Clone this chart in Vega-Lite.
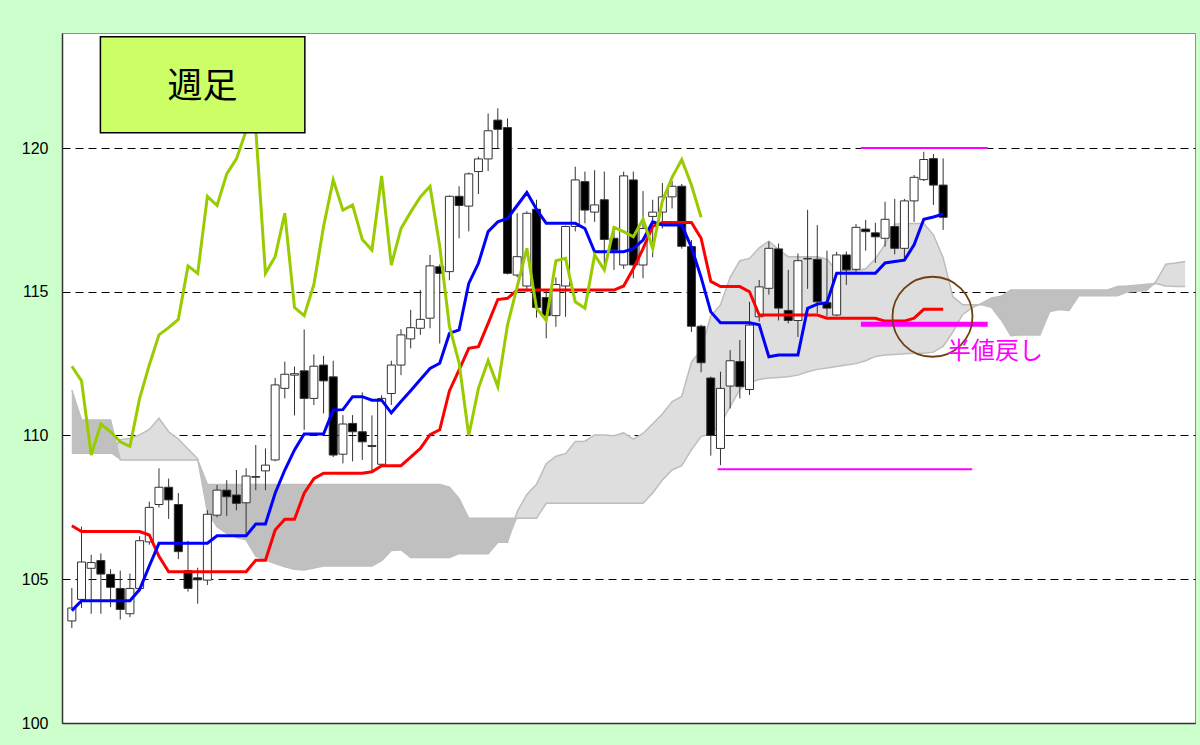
{
"$schema": "https://vega.github.io/schema/vega-lite/v6.json",
"width": 1133, "height": 690,
"autosize": "none",
"padding": {"left": 62, "top": 33, "right": 5, "bottom": 22},
"background": "#CCFFCC",
"config": {
 "view": {"fill": "white", "stroke": "#909090", "strokeWidth": 1},
 "font": "Liberation Sans",
 "axisX": {"labels": false, "ticks": false, "grid": false, "domainColor": "#333333", "domainWidth": 1.5},
 "axisY": {"ticks": false, "tickSize": 0, "labelPadding": 14, "labelFontSize": 16, "labelColor": "#000000", "labelFont": "Liberation Sans", "domainColor": "#333333", "domainWidth": 1.5, "grid": true, "gridColor": "#000000", "gridDash": [8, 5], "gridWidth": 1}
},
"datasets": {
"candles": [
{"i":0,"o":103.55,"h":104.7,"l":103.3,"c":104.0,"t":103.91,"k":106.86},
{"i":1,"o":104.3,"h":106.83,"l":104.0,"c":105.6,"t":104.25,"k":106.66},
{"i":2,"o":105.38,"h":105.85,"l":103.8,"c":105.58,"t":104.25,"k":106.66},
{"i":3,"o":105.65,"h":105.9,"l":103.8,"c":105.18,"t":104.25,"k":106.66},
{"i":4,"o":105.17,"h":105.35,"l":104.03,"c":104.72,"t":104.25,"k":106.66},
{"i":5,"o":104.68,"h":105.3,"l":103.6,"c":103.95,"t":104.25,"k":106.66},
{"i":6,"o":103.8,"h":105.2,"l":103.68,"c":104.68,"t":104.25,"k":106.66},
{"i":7,"o":104.68,"h":106.5,"l":104.6,"c":106.34,"t":104.64,"k":106.66},
{"i":8,"o":106.3,"h":107.7,"l":106.2,"c":107.5,"t":105.46,"k":106.54},
{"i":9,"o":107.6,"h":108.86,"l":107.5,"c":108.2,"t":106.25,"k":105.8},
{"i":10,"o":108.2,"h":108.5,"l":107.1,"c":107.76,"t":106.25,"k":105.26},
{"i":11,"o":107.6,"h":108.0,"l":105.7,"c":105.96,"t":106.25,"k":105.26},
{"i":12,"o":105.3,"h":106.34,"l":104.57,"c":104.68,"t":106.25,"k":105.26},
{"i":13,"o":105.05,"h":105.4,"l":104.15,"c":104.98,"t":106.25,"k":105.26},
{"i":14,"o":104.97,"h":107.4,"l":104.8,"c":107.26,"t":106.25,"k":105.26},
{"i":15,"o":107.23,"h":108.28,"l":107.15,"c":108.1,"t":106.51,"k":105.26},
{"i":16,"o":108.1,"h":108.45,"l":107.2,"c":107.87,"t":106.51,"k":105.26},
{"i":17,"o":107.93,"h":108.8,"l":107.4,"c":107.64,"t":106.51,"k":105.26},
{"i":18,"o":107.66,"h":108.86,"l":106.55,"c":108.59,"t":106.51,"k":105.26},
{"i":19,"o":108.57,"h":109.67,"l":108.1,"c":108.55,"t":106.92,"k":105.66},
{"i":20,"o":108.77,"h":109.55,"l":108.1,"c":108.97,"t":106.92,"k":105.66},
{"i":21,"o":109.15,"h":112.0,"l":109.1,"c":111.76,"t":107.99,"k":106.71},
{"i":22,"o":111.64,"h":112.57,"l":111.29,"c":112.13,"t":108.8,"k":107.09},
{"i":23,"o":112.1,"h":112.4,"l":110.7,"c":112.15,"t":109.5,"k":107.09},
{"i":24,"o":112.25,"h":113.69,"l":110.2,"c":111.29,"t":110.05,"k":107.99},
{"i":25,"o":111.29,"h":112.82,"l":111.06,"c":112.41,"t":110.05,"k":108.5},
{"i":26,"o":112.45,"h":112.77,"l":110.77,"c":111.9,"t":110.05,"k":108.69},
{"i":27,"o":112.04,"h":112.6,"l":109.25,"c":109.32,"t":110.89,"k":108.69},
{"i":28,"o":109.35,"h":110.71,"l":109.03,"c":110.4,"t":110.9,"k":108.69},
{"i":29,"o":110.42,"h":110.71,"l":109.1,"c":110.13,"t":111.35,"k":108.69},
{"i":30,"o":110.13,"h":111.5,"l":109.15,"c":109.78,"t":111.35,"k":108.69},
{"i":31,"o":109.65,"h":110.7,"l":108.75,"c":109.62,"t":111.23,"k":108.74},
{"i":32,"o":109.0,"h":111.4,"l":108.97,"c":111.29,"t":111.23,"k":108.95},
{"i":33,"o":111.46,"h":112.6,"l":111.06,"c":112.45,"t":110.79,"k":108.95},
{"i":34,"o":112.45,"h":113.7,"l":112.1,"c":113.5,"t":111.18,"k":108.95},
{"i":35,"o":113.36,"h":114.37,"l":113.03,"c":113.75,"t":111.56,"k":109.25},
{"i":36,"o":113.73,"h":115.06,"l":113.5,"c":114.04,"t":111.95,"k":109.55},
{"i":37,"o":114.08,"h":116.28,"l":113.73,"c":115.9,"t":112.33,"k":110.03},
{"i":38,"o":115.87,"h":115.95,"l":113.2,"c":115.64,"t":112.51,"k":110.2},
{"i":39,"o":115.7,"h":118.35,"l":115.4,"c":118.32,"t":113.55,"k":111.55},
{"i":40,"o":118.32,"h":118.67,"l":116.86,"c":118.0,"t":113.67,"k":112.28},
{"i":41,"o":117.98,"h":119.15,"l":117.1,"c":119.1,"t":115.29,"k":113.03},
{"i":42,"o":119.18,"h":119.7,"l":118.4,"c":119.62,"t":115.99,"k":113.09},
{"i":43,"o":119.62,"h":121.2,"l":119.2,"c":120.6,"t":117.09,"k":113.9},
{"i":44,"o":120.97,"h":121.38,"l":120.0,"c":120.65,"t":117.43,"k":114.73},
{"i":45,"o":120.71,"h":121.03,"l":115.6,"c":115.64,"t":117.55,"k":114.77},
{"i":46,"o":115.58,"h":117.73,"l":115.5,"c":116.22,"t":118.0,"k":115.06},
{"i":47,"o":115.2,"h":117.8,"l":115.0,"c":117.73,"t":118.45,"k":115.06},
{"i":48,"o":117.87,"h":118.2,"l":114.1,"c":114.45,"t":117.87,"k":115.06},
{"i":49,"o":114.8,"h":115.06,"l":113.38,"c":114.17,"t":117.38,"k":115.06},
{"i":50,"o":114.17,"h":115.5,"l":113.78,"c":115.25,"t":117.38,"k":115.06},
{"i":51,"o":115.2,"h":117.3,"l":114.13,"c":117.27,"t":117.38,"k":115.06},
{"i":52,"o":117.27,"h":119.35,"l":117.1,"c":118.89,"t":117.38,"k":115.06},
{"i":53,"o":118.83,"h":119.18,"l":117.38,"c":117.84,"t":117.2,"k":115.06},
{"i":54,"o":117.77,"h":119.23,"l":117.43,"c":118.02,"t":116.39,"k":115.06},
{"i":55,"o":118.2,"h":119.18,"l":115.76,"c":116.82,"t":116.39,"k":115.06},
{"i":56,"o":116.86,"h":117.2,"l":115.76,"c":116.45,"t":116.39,"k":115.06},
{"i":57,"o":115.93,"h":119.18,"l":115.8,"c":119.03,"t":116.39,"k":115.2},
{"i":58,"o":118.89,"h":119.18,"l":115.47,"c":115.93,"t":116.5,"k":115.8},
{"i":59,"o":115.93,"h":118.5,"l":115.47,"c":117.2,"t":116.8,"k":116.5},
{"i":60,"o":117.62,"h":118.2,"l":116.2,"c":117.77,"t":117.43,"k":117.27},
{"i":61,"o":117.77,"h":118.78,"l":117.2,"c":118.3,"t":117.32,"k":117.41},
{"i":62,"o":118.3,"h":118.85,"l":117.9,"c":118.67,"t":117.32,"k":117.41},
{"i":63,"o":118.67,"h":118.75,"l":116.5,"c":116.58,"t":117.32,"k":117.41},
{"i":64,"o":116.57,"h":116.8,"l":113.6,"c":113.8,"t":116.55,"k":117.41},
{"i":65,"o":113.8,"h":113.85,"l":112.2,"c":112.53,"t":115.5,"k":116.86},
{"i":66,"o":112.0,"h":112.05,"l":109.3,"c":110.0,"t":114.3,"k":115.36},
{"i":67,"o":109.55,"h":112.22,"l":108.97,"c":111.64,"t":113.92,"k":115.18},
{"i":68,"o":111.72,"h":112.97,"l":110.94,"c":112.6,"t":113.92,"k":115.18},
{"i":69,"o":112.57,"h":113.32,"l":111.29,"c":111.7,"t":113.92,"k":115.18},
{"i":70,"o":111.6,"h":114.65,"l":111.41,"c":113.84,"t":113.92,"k":115.0},
{"i":71,"o":114.13,"h":115.41,"l":113.96,"c":115.17,"t":113.85,"k":114.19},
{"i":72,"o":115.12,"h":116.74,"l":114.9,"c":116.51,"t":112.74,"k":114.19},
{"i":73,"o":116.49,"h":116.68,"l":114.0,"c":114.43,"t":112.8,"k":114.19},
{"i":74,"o":114.35,"h":115.76,"l":113.9,"c":114.0,"t":112.8,"k":114.19},
{"i":75,"o":114.0,"h":116.33,"l":113.43,"c":116.08,"t":112.8,"k":114.19},
{"i":76,"o":116.14,"h":117.85,"l":115.1,"c":116.16,"t":114.42,"k":114.19},
{"i":77,"o":116.13,"h":117.32,"l":114.25,"c":114.65,"t":114.57,"k":114.19},
{"i":78,"o":114.62,"h":116.43,"l":114.15,"c":114.43,"t":114.62,"k":114.08},
{"i":79,"o":114.19,"h":116.39,"l":114.15,"c":116.28,"t":115.64,"k":114.08},
{"i":80,"o":116.28,"h":116.4,"l":115.24,"c":115.76,"t":115.64,"k":114.08},
{"i":81,"o":115.78,"h":117.36,"l":115.7,"c":117.24,"t":115.64,"k":114.08},
{"i":82,"o":117.18,"h":117.5,"l":116.43,"c":117.09,"t":115.64,"k":114.08},
{"i":83,"o":117.05,"h":117.4,"l":116.0,"c":116.91,"t":115.64,"k":114.08},
{"i":84,"o":116.86,"h":118.13,"l":116.57,"c":117.52,"t":116.0,"k":113.98},
{"i":85,"o":117.27,"h":118.23,"l":116.3,"c":116.51,"t":116.05,"k":113.98},
{"i":86,"o":116.51,"h":118.23,"l":116.16,"c":118.16,"t":116.1,"k":113.98},
{"i":87,"o":118.16,"h":119.06,"l":117.43,"c":118.98,"t":116.63,"k":114.08},
{"i":88,"o":118.9,"h":119.87,"l":118.85,"c":119.6,"t":117.52,"k":114.39},
{"i":89,"o":119.63,"h":119.79,"l":118.02,"c":118.71,"t":117.6,"k":114.39},
{"i":90,"o":118.71,"h":119.64,"l":117.15,"c":117.59,"t":117.7,"k":114.39}
],
"chikou": [
{"i":0,"v":112.41},{"i":1,"v":111.9},{"i":2,"v":109.32},{"i":3,"v":110.4},{"i":4,"v":110.13},{"i":5,"v":109.78},{"i":6,"v":109.62},{"i":7,"v":111.29},{"i":8,"v":112.45},{"i":9,"v":113.5},
{"i":10,"v":113.75},{"i":11,"v":114.04},{"i":12,"v":115.9},{"i":13,"v":115.64},{"i":14,"v":118.32},{"i":15,"v":118.0},{"i":16,"v":119.1},{"i":17,"v":119.62},{"i":18,"v":120.6},{"i":19,"v":120.65},
{"i":20,"v":115.64},{"i":21,"v":116.22},{"i":22,"v":117.73},{"i":23,"v":114.45},{"i":24,"v":114.17},{"i":25,"v":115.25},{"i":26,"v":117.27},{"i":27,"v":118.89},{"i":28,"v":117.84},{"i":29,"v":118.02},
{"i":30,"v":116.82},{"i":31,"v":116.45},{"i":32,"v":119.03},{"i":33,"v":115.93},{"i":34,"v":117.2},{"i":35,"v":117.77},{"i":36,"v":118.3},{"i":37,"v":118.67},{"i":38,"v":116.58},{"i":39,"v":113.8},
{"i":40,"v":112.53},{"i":41,"v":110.0},{"i":42,"v":111.64},{"i":43,"v":112.6},{"i":44,"v":111.7},{"i":45,"v":113.84},{"i":46,"v":115.17},{"i":47,"v":116.51},{"i":48,"v":114.43},{"i":49,"v":114.0},
{"i":50,"v":116.08},{"i":51,"v":116.16},{"i":52,"v":114.65},{"i":53,"v":114.43},{"i":54,"v":116.28},{"i":55,"v":115.76},{"i":56,"v":117.24},{"i":57,"v":117.09},{"i":58,"v":116.91},{"i":59,"v":117.52},
{"i":60,"v":116.51},{"i":61,"v":118.16},{"i":62,"v":118.98},{"i":63,"v":119.6},{"i":64,"v":118.71},{"i":65,"v":117.59}
],
"cloud": [
{"i":0,"A":109.38,"B":111.58,"lo":109.38},{"i":1,"A":109.38,"B":110.54,"lo":109.38},{"i":2,"A":109.38,"B":110.54,"lo":109.38},{"i":3,"A":109.38,"B":110.54,"lo":109.38},{"i":4,"A":109.38,"B":110.54,"lo":109.38},
{"i":5,"A":109.85,"B":109.15,"lo":109.15},{"i":6,"A":109.9,"B":109.15,"lo":109.15},{"i":7,"A":110.02,"B":109.15,"lo":109.15},{"i":8,"A":110.21,"B":109.15,"lo":109.15},{"i":9,"A":110.6,"B":109.15,"lo":109.15},
{"i":10,"A":110.13,"B":109.15,"lo":109.15},{"i":11,"A":109.88,"B":109.15,"lo":109.15},{"i":12,"A":109.53,"B":109.15,"lo":109.15},{"i":13,"A":109.19,"B":109.15,"lo":109.15},{"i":14,"A":107.34,"B":108.3,"lo":107.34},
{"i":15,"A":106.83,"B":108.3,"lo":106.83},{"i":16,"A":106.6,"B":108.3,"lo":106.6},{"i":17,"A":106.45,"B":108.3,"lo":106.45},{"i":18,"A":106.37,"B":108.3,"lo":106.37},{"i":19,"A":105.8,"B":108.3,"lo":105.8},
{"i":20,"A":105.67,"B":108.3,"lo":105.67},{"i":21,"A":105.55,"B":108.3,"lo":105.55},{"i":22,"A":105.43,"B":108.3,"lo":105.43},{"i":23,"A":105.35,"B":108.3,"lo":105.35},{"i":24,"A":105.32,"B":108.3,"lo":105.32},
{"i":25,"A":105.39,"B":108.3,"lo":105.39},{"i":26,"A":105.46,"B":108.3,"lo":105.46},{"i":27,"A":105.46,"B":108.3,"lo":105.46},{"i":28,"A":105.46,"B":108.3,"lo":105.46},{"i":29,"A":105.46,"B":108.3,"lo":105.46},
{"i":30,"A":105.46,"B":108.3,"lo":105.46},{"i":31,"A":105.46,"B":108.3,"lo":105.46},{"i":32,"A":105.65,"B":108.3,"lo":105.65},{"i":33,"A":106.0,"B":108.3,"lo":106.0},{"i":34,"A":106.03,"B":108.3,"lo":106.03},
{"i":35,"A":105.76,"B":108.3,"lo":105.76},{"i":36,"A":105.76,"B":108.3,"lo":105.76},{"i":37,"A":105.76,"B":108.3,"lo":105.76},{"i":38,"A":105.76,"B":108.3,"lo":105.76},{"i":39,"A":105.76,"B":108.2,"lo":105.76},
{"i":40,"A":105.89,"B":107.8,"lo":105.89},{"i":41,"A":105.89,"B":107.12,"lo":105.89},{"i":42,"A":105.89,"B":107.12,"lo":105.89},{"i":43,"A":105.89,"B":107.12,"lo":105.89},{"i":44,"A":106.29,"B":107.12,"lo":106.29},
{"i":45,"A":106.29,"B":107.12,"lo":106.29},{"i":46,"A":107.35,"B":107.12,"lo":107.12},{"i":47,"A":107.95,"B":107.12,"lo":107.12},{"i":48,"A":108.3,"B":107.12,"lo":107.12},{"i":49,"A":109.02,"B":107.64,"lo":107.64},
{"i":50,"A":109.28,"B":107.64,"lo":107.64},{"i":51,"A":109.37,"B":107.64,"lo":107.64},{"i":52,"A":109.79,"B":107.64,"lo":107.64},{"i":53,"A":109.8,"B":107.64,"lo":107.64},{"i":54,"A":110.02,"B":107.64,"lo":107.64},
{"i":55,"A":110.02,"B":107.64,"lo":107.64},{"i":56,"A":109.99,"B":107.64,"lo":107.64},{"i":57,"A":110.09,"B":107.64,"lo":107.64},{"i":58,"A":109.87,"B":107.64,"lo":107.64},{"i":59,"A":110.07,"B":107.64,"lo":107.64},
{"i":60,"A":110.41,"B":108.0,"lo":108.0},{"i":61,"A":110.75,"B":108.45,"lo":108.45},{"i":62,"A":111.18,"B":108.8,"lo":108.8},{"i":63,"A":111.36,"B":108.95,"lo":108.95},{"i":64,"A":112.55,"B":109.5,"lo":109.5},
{"i":65,"A":112.98,"B":109.96,"lo":109.96},{"i":66,"A":114.16,"B":110.07,"lo":110.07},{"i":67,"A":114.54,"B":110.4,"lo":110.4},{"i":68,"A":115.5,"B":111.0,"lo":111.0},{"i":69,"A":116.08,"B":111.6,"lo":111.6},
{"i":70,"A":116.16,"B":111.85,"lo":111.85},{"i":71,"A":116.53,"B":111.95,"lo":111.95},{"i":72,"A":116.76,"B":112.0,"lo":112.0},{"i":73,"A":116.47,"B":112.02,"lo":112.02},{"i":74,"A":116.22,"B":112.04,"lo":112.04},
{"i":75,"A":116.22,"B":112.1,"lo":112.1},{"i":76,"A":116.22,"B":112.22,"lo":112.22},{"i":77,"A":116.22,"B":112.3,"lo":112.3},{"i":78,"A":116.13,"B":112.35,"lo":112.35},{"i":79,"A":115.73,"B":112.4,"lo":112.4},
{"i":80,"A":115.73,"B":112.45,"lo":112.45},{"i":81,"A":115.73,"B":112.5,"lo":112.5},{"i":82,"A":115.8,"B":112.6,"lo":112.6},{"i":83,"A":116.15,"B":112.75,"lo":112.75},{"i":84,"A":116.65,"B":112.8,"lo":112.8},
{"i":85,"A":117.35,"B":112.82,"lo":112.82},{"i":86,"A":117.37,"B":112.84,"lo":112.84},{"i":87,"A":117.37,"B":112.86,"lo":112.86},{"i":88,"A":117.37,"B":112.86,"lo":112.86},{"i":89,"A":116.98,"B":112.9,"lo":112.9},
{"i":90,"A":116.18,"B":113.1,"lo":113.1},{"i":91,"A":114.83,"B":113.6,"lo":113.6},{"i":92,"A":114.55,"B":114.2,"lo":114.2},{"i":93,"A":114.55,"B":114.45,"lo":114.45},{"i":94,"A":114.55,"B":114.6,"lo":114.55},
{"i":95,"A":114.46,"B":114.78,"lo":114.46},{"i":96,"A":114.02,"B":114.84,"lo":114.02},{"i":97,"A":113.47,"B":115.06,"lo":113.47},{"i":98,"A":113.5,"B":115.06,"lo":113.5},{"i":99,"A":113.5,"B":115.06,"lo":113.5},
{"i":100,"A":113.5,"B":115.06,"lo":113.5},{"i":101,"A":114.31,"B":115.06,"lo":114.31},{"i":102,"A":114.38,"B":115.06,"lo":114.38},{"i":103,"A":114.35,"B":115.06,"lo":114.35},{"i":104,"A":114.86,"B":115.06,"lo":114.86},
{"i":105,"A":114.86,"B":115.06,"lo":114.86},{"i":106,"A":114.86,"B":115.06,"lo":114.86},{"i":107,"A":114.86,"B":115.06,"lo":114.86},{"i":108,"A":114.86,"B":115.18,"lo":114.86},{"i":109,"A":114.99,"B":115.2,"lo":114.99},
{"i":110,"A":115.02,"B":115.23,"lo":115.02},{"i":111,"A":115.04,"B":115.26,"lo":115.04},{"i":112,"A":115.36,"B":115.29,"lo":115.29},{"i":113,"A":115.96,"B":115.2,"lo":115.2},{"i":114,"A":116.0,"B":115.18,"lo":115.18},
{"i":115,"A":116.05,"B":115.18,"lo":115.18}
],
"thin": [{"x1":66.7,"x2":93.0,"y":108.83},{"x1":81.5,"x2":94.6,"y":120.0}],
"thick": [{"x1":81.5,"x2":94.6,"y":113.87}],
"ring": [{"x":88.9,"y":114.13}],
"note": [{"x":90.4,"y":112.9,"text":"半値戻し"}],
"titlebox": [{"x1":2.95,"x2":24.07,"y1":120.53,"y2":123.87,"xc":13.5,"yc":122.12,"text":"週足"}]
},
"layer": [
{"data": {"name": "cloud"}, "mark": {"type": "area", "fill": "#DEDEDE", "stroke": null},
 "encoding": {
  "x": {"field": "i", "type": "quantitative", "scale": {"domain": [-0.5, 115.5], "nice": false, "zero": false}, "axis": {"title": null}},
  "y": {"field": "A", "type": "quantitative", "scale": {"domain": [100, 124], "nice": false, "zero": false}, "axis": {"title": null, "values": [100, 105, 110, 115, 120]}},
  "y2": {"field": "B"}}},
{"data": {"name": "cloud"}, "mark": {"type": "line", "stroke": "#BDBDBD", "strokeWidth": 1.5},
 "encoding": {"x": {"field": "i", "type": "quantitative", "axis": {"title": null}}, "y": {"field": "A", "type": "quantitative", "axis": {"title": null, "values": [100, 105, 110, 115, 120]}}}},
{"data": {"name": "cloud"}, "mark": {"type": "line", "stroke": "#BDBDBD", "strokeWidth": 1.5},
 "encoding": {"x": {"field": "i", "type": "quantitative", "axis": {"title": null}}, "y": {"field": "B", "type": "quantitative", "axis": {"title": null, "values": [100, 105, 110, 115, 120]}}}},
{"data": {"name": "cloud"}, "mark": {"type": "area", "fill": "#C0C0C0", "stroke": null},
 "encoding": {"x": {"field": "i", "type": "quantitative", "axis": {"title": null}}, "y": {"field": "B", "type": "quantitative", "axis": {"title": null, "values": [100, 105, 110, 115, 120]}}, "y2": {"field": "lo"}}},
{"data": {"name": "candles"}, "mark": {"type": "rule", "stroke": "#333333", "strokeWidth": 1},
 "encoding": {"x": {"field": "i", "type": "quantitative", "axis": {"title": null}}, "y": {"field": "l", "type": "quantitative", "axis": {"title": null, "values": [100, 105, 110, 115, 120]}}, "y2": {"field": "h"}}},
{"data": {"name": "candles"}, "mark": {"type": "bar", "size": 8, "stroke": "#333333", "strokeWidth": 1},
 "encoding": {"x": {"field": "i", "type": "quantitative", "axis": {"title": null}}, "y": {"field": "o", "type": "quantitative", "axis": {"title": null, "values": [100, 105, 110, 115, 120]}}, "y2": {"field": "c"},
  "fill": {"condition": {"test": "datum.c < datum.o", "value": "#000000"}, "value": "#FFFFFF"}}},
{"data": {"name": "candles"}, "mark": {"type": "line", "stroke": "#FF0000", "strokeWidth": 3},
 "encoding": {"x": {"field": "i", "type": "quantitative", "axis": {"title": null}}, "y": {"field": "k", "type": "quantitative", "axis": {"title": null, "values": [100, 105, 110, 115, 120]}}}},
{"data": {"name": "candles"}, "mark": {"type": "line", "stroke": "#0000FF", "strokeWidth": 3},
 "encoding": {"x": {"field": "i", "type": "quantitative", "axis": {"title": null}}, "y": {"field": "t", "type": "quantitative", "axis": {"title": null, "values": [100, 105, 110, 115, 120]}}}},
{"data": {"name": "chikou"}, "mark": {"type": "line", "stroke": "#99CC00", "strokeWidth": 3},
 "encoding": {"x": {"field": "i", "type": "quantitative", "axis": {"title": null}}, "y": {"field": "v", "type": "quantitative", "axis": {"title": null, "values": [100, 105, 110, 115, 120]}}}},
{"data": {"name": "titlebox"}, "mark": {"type": "rect", "fill": "#CCFF66", "stroke": "#000000", "strokeWidth": 1.5},
 "encoding": {"x": {"field": "x1", "type": "quantitative", "axis": {"title": null}}, "x2": {"field": "x2"}, "y": {"field": "y1", "type": "quantitative", "axis": {"title": null, "values": [100, 105, 110, 115, 120]}}, "y2": {"field": "y2"}}},
{"data": {"name": "titlebox"}, "mark": {"type": "text", "font": "Noto Sans CJK JP", "fontSize": 35, "color": "#000000", "align": "center", "baseline": "middle"},
 "encoding": {"x": {"field": "xc", "type": "quantitative", "axis": {"title": null}}, "y": {"field": "yc", "type": "quantitative", "axis": {"title": null, "values": [100, 105, 110, 115, 120]}}, "text": {"field": "text"}}},
{"data": {"name": "thin"}, "mark": {"type": "rule", "stroke": "#FF00FF", "strokeWidth": 2},
 "encoding": {"x": {"field": "x1", "type": "quantitative", "axis": {"title": null}}, "x2": {"field": "x2"}, "y": {"field": "y", "type": "quantitative", "axis": {"title": null, "values": [100, 105, 110, 115, 120]}}}},
{"data": {"name": "thick"}, "mark": {"type": "rule", "stroke": "#FF00FF", "strokeWidth": 5},
 "encoding": {"x": {"field": "x1", "type": "quantitative", "axis": {"title": null}}, "x2": {"field": "x2"}, "y": {"field": "y", "type": "quantitative", "axis": {"title": null, "values": [100, 105, 110, 115, 120]}}}},
{"data": {"name": "ring"}, "mark": {"type": "point", "shape": "circle", "filled": false, "size": 6400, "stroke": "#704010", "strokeWidth": 1.8, "opacity": 1},
 "encoding": {"x": {"field": "x", "type": "quantitative", "axis": {"title": null}}, "y": {"field": "y", "type": "quantitative", "axis": {"title": null, "values": [100, 105, 110, 115, 120]}}}},
{"data": {"name": "note"}, "mark": {"type": "text", "font": "Noto Sans CJK JP", "fontSize": 24, "color": "#FF00FF", "align": "left", "baseline": "middle"},
 "encoding": {"x": {"field": "x", "type": "quantitative", "axis": {"title": null}}, "y": {"field": "y", "type": "quantitative", "axis": {"title": null, "values": [100, 105, 110, 115, 120]}}, "text": {"field": "text"}}}
]
}
